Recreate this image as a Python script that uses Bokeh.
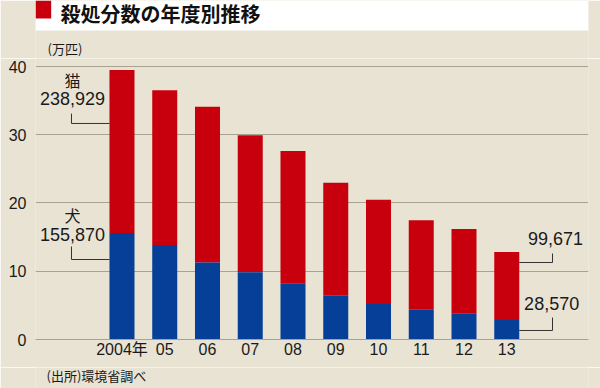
from bokeh.plotting import figure
from bokeh.layouts import column
from bokeh.models import Range1d, FixedTicker, Label, ColumnDataSource
from bokeh.embed import file_html
from bokeh.resources import INLINE
from bokeh.core.properties import value

# ---- data ----
years = ["2004年", "05", "06", "07", "08", "09", "10", "11", "12", "13"]
dogs = [155870, 138599, 112690, 98556, 82464, 64061, 51964, 43606, 38447, 28570]
cats = [238929, 226702, 228373, 200760, 193748, 165771, 152729, 131136, 123400, 99671]
y_ticks = [0, 10, 20, 30, 40]

RED = "#c8000e"
BLUE = "#053f98"
BEIGE = "#e9e3d4"
GRID = "#a9a291"
INK = "#1a1a1a"
NUMFONT = "Liberation Sans, Arial, sans-serif"
JPFONT = "Noto Sans CJK JP"

W = 600

def blank(height):
    f = figure(width=W, height=height, x_range=Range1d(0, W), y_range=Range1d(height, 0),
               output_backend="svg", toolbar_location=None, min_border=0)
    f.axis.visible = False
    f.grid.visible = False
    f.outline_line_color = None
    f.background_fill_color = BEIGE
    f.border_fill_color = BEIGE
    return f

# ---- header (title band + unit label) ----
h = blank(58)
h.quad(left=[0], right=[W], top=[0], bottom=[30], fill_color="white", line_color=None)
h.quad(left=[0], right=[17], top=[0], bottom=[18], fill_color=RED, line_color=None)
h.text(x=[27], y=[13], text=["殺処分数の年度別推移"], text_font=value(JPFONT),
       text_font_style="bold", text_font_size="20px", text_baseline="middle",
       text_align="left", text_color="#111111")
h.text(x=[13], y=[48], text=["(万匹)"], text_font=value(JPFONT),
       text_font_size="13px", text_baseline="middle", text_align="left", text_color=INK)

# ---- main chart ----
idx = list(range(len(years)))
dog_v = [d / 10000 for d in dogs]
tot_v = [(d + c) / 10000 for d, c in zip(dogs, cats)]
src = ColumnDataSource(dict(x=idx, dog=dog_v, tot=tot_v, zero=[0] * len(idx)))

p = figure(width=W, height=309, x_range=Range1d(-2.023, 10.912), y_range=Range1d(0, 41.17),
           output_backend="svg", toolbar_location=None,
           min_border_left=35, min_border_right=12, min_border_top=0, min_border_bottom=28)
p.background_fill_color = BEIGE
p.border_fill_color = BEIGE
p.outline_line_color = None
p.xgrid.visible = False
p.ygrid.grid_line_color = GRID
p.ygrid.grid_line_width = 1
p.ygrid.ticker = FixedTicker(ticks=y_ticks)

p.yaxis.ticker = FixedTicker(ticks=y_ticks)
p.yaxis.axis_line_color = None
p.yaxis.major_tick_line_color = None
p.yaxis.minor_tick_line_color = None
p.yaxis.major_label_standoff = 3
p.yaxis.major_label_text_font = NUMFONT
p.yaxis.major_label_text_font_size = "16px"
p.yaxis.major_label_text_color = INK

p.xaxis.ticker = FixedTicker(ticks=idx)
p.xaxis.major_label_overrides = {i: y for i, y in zip(idx, years)}
p.xaxis.axis_line_color = GRID
p.xaxis.major_tick_line_color = None
p.xaxis.minor_tick_line_color = None
p.xaxis.major_tick_out = 0
p.xaxis.major_label_standoff = 1
p.xaxis.major_label_text_font = NUMFONT + ", " + JPFONT
p.xaxis.major_label_text_font_size = "16px"
p.xaxis.major_label_text_color = INK

BW = 0.585
p.vbar(x="x", bottom="dog", top="tot", width=BW, fill_color=RED, line_color=None, source=src)
p.vbar(x="x", bottom="zero", top="dog", width=BW, fill_color=BLUE, line_color=None, source=src)

# leader lines
lx = -1.181
left_edge = idx[0] - BW / 2
right_edge = idx[-1] + BW / 2
rx = 10.07
p.line([lx, lx, left_edge], [33.1, 31.65, 31.65], line_color="#333333", line_width=1)
p.line([lx, lx, left_edge], [13.63, 11.72, 11.72], line_color="#333333", line_width=1)
p.line([right_edge, rx, rx], [11.28, 11.28, 12.6], line_color="#333333", line_width=1)
p.line([right_edge, rx, rx], [1.32, 1.32, 3.22], line_color="#333333", line_width=1)

def lab(x, y, t, font, size, align="center"):
    p.add_layout(Label(x=x, y=y, text=t, text_font=font, text_font_size=size,
                       text_align=align, text_baseline="middle", text_color=INK))

lab(-1.158, 37.95, "猫", JPFONT, "16px")
lab(-1.158, 35.38, f"{cats[0]:,}", NUMFONT, "18px")
lab(-1.158, 18.17, "犬", JPFONT, "16px")
lab(-1.158, 15.38, f"{dogs[0]:,}", NUMFONT, "18px")
lab(10.14, 14.8, f"{cats[-1]:,}", NUMFONT, "18px")
lab(10.05, 5.27, f"{dogs[-1]:,}", NUMFONT, "18px")

# ---- footer (source) ----
ft = blank(21)
ft.text(x=[12], y=[8], text=["(出所)環境省調べ"], text_font=value(JPFONT),
        text_font_size="13px", text_baseline="middle", text_align="left", text_color=INK)

layout = column(h, p, ft, spacing=0)
open("out.html", "w").write(file_html(layout, INLINE))
